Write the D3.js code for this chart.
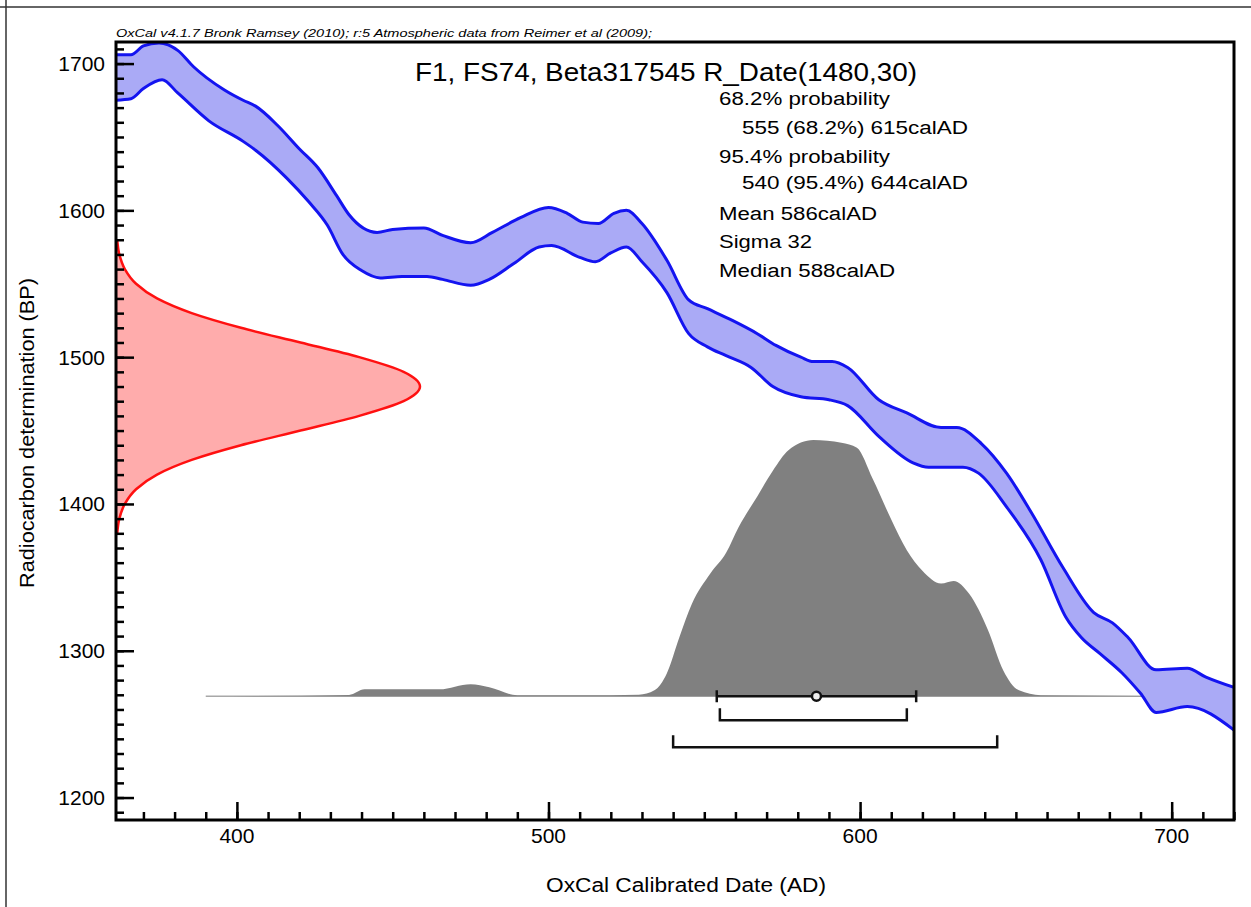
<!DOCTYPE html>
<html>
<head>
<meta charset="utf-8">
<script src="https://cdn.jsdelivr.net/npm/d3@7"></script>
<style>
  html, body { margin: 0; padding: 0; background: #fff; }
  svg { display: block; }
  text { font-family: "Liberation Sans", Arial, sans-serif; fill: #000; }
</style>
</head>
<body>
<svg id="chart" width="1251" height="907"></svg>
<script>
// ---------------- DATA ----------------
// Calibration curve (IntCal09) upper and lower 1-sigma envelope
const calUpperYear = [361,366,370,375,381,386,396,402,406,413,420,426,432,436,445,450,460,466,475,482,491,500,506,511,516,521,525,530,538,545,551,559,567,573,581,585,591,596,606,615,626,631,639,647,655,665,675,681,686,695,705,711,720];
const calUpperBP   = [1706,1706,1712,1714,1709,1698,1682,1675,1671,1658,1642,1629,1610,1597,1585,1587,1588,1583,1578,1585,1595,1602,1598,1592,1591,1598,1600,1591,1566,1539,1533,1525,1516,1508,1500,1497,1497,1493,1471,1462,1452,1452,1441,1421,1394,1357,1326,1319,1309,1287,1288,1282,1275];
const calLowerYear = [361,366,370,376,381,391,402,406,416,423,429,434,440,446,453,461,466,475,481,489,497,501,510,515,520,525,530,538,545,551,557,565,572,581,590,596,606,617,622,633,638,647,658,666,671,677,684,690,695,705,720];
const calLowerBP   = [1675,1676,1683,1689,1680,1661,1647,1641,1622,1606,1590,1570,1559,1554,1555,1555,1553,1549,1553,1564,1575,1576,1568,1565,1571,1575,1565,1544,1516,1507,1501,1493,1480,1473,1471,1467,1446,1428,1425,1425,1421,1398,1362,1323,1309,1298,1285,1271,1258,1262,1246];

// Radiocarbon determination R_Date(1480,30) (relative probability)
const rdateBP   = [1380,1390,1400,1410,1420,1430,1440,1450,1460,1470,1480,1490,1500,1510,1520,1530,1540,1550,1560,1570,1580];
const rdateProb = [0.004,0.011,0.029,0.066,0.135,0.249,0.411,0.607,0.800,0.946,1.000,0.946,0.800,0.607,0.411,0.249,0.135,0.066,0.029,0.011,0.004];

// Calibrated date distribution (relative probability)
const postYear = [390,436,441,465,475,481,490,510,529,534,538,542,546,552,557,561,567,572,577,585,594,599,604,610,615,620,626,630,635,641,646,651,658,720];
const postProb = [0,0.005,0.027,0.027,0.047,0.035,0.004,0.004,0.006,0.023,0.09,0.23,0.36,0.48,0.56,0.66,0.78,0.88,0.96,1.0,0.99,0.97,0.85,0.69,0.57,0.49,0.44,0.45,0.40,0.26,0.10,0.023,0.004,0];

// Summary statistics and ranges
const meanAD = 586, sigmaAD = 32;
const range68 = [555, 615];
const range95 = [540, 644];

// Texts
const headerText = "OxCal v4.1.7 Bronk Ramsey (2010); r:5 Atmospheric data from Reimer et al (2009);";
const titleText = "F1, FS74, Beta317545 R_Date(1480,30)";
const infoLines = ["68.2% probability", "   555 (68.2%) 615calAD", "95.4% probability", "   540 (95.4%) 644calAD", "Mean 586calAD", "Sigma 32", "Median 588calAD"];
const xTickValues = [400, 500, 600, 700];
const yTickValues = [1200, 1300, 1400, 1500, 1600, 1700];
const xTitle = "OxCal Calibrated Date (AD)";
const yTitle = "Radiocarbon determination (BP)";

// ---------------- LAYOUT ----------------
const svg = d3.select("#chart");
const L = 116, R = 1234, T = 42, B = 820;

const x = d3.scaleLinear().domain([361.2, 720]).range([L, R]);
const y = d3.scaleLinear().domain([1184.7, 1714.7]).range([B, T]);

// scales for the probability distributions
const rdateX = d3.scaleLinear().domain([0, 1]).range([L, L + 304]);
const postY = d3.scaleLinear().domain([0, 1]).range([y(1269), y(1443.5)]);

// outer image border (top & left)
svg.append("line").attr("x1", 0).attr("x2", 1251).attr("y1", 7).attr("y2", 7)
  .attr("stroke", "#333").attr("stroke-width", 1.5);
svg.append("line").attr("x1", 6).attr("x2", 6).attr("y1", 0).attr("y2", 907)
  .attr("stroke", "#333").attr("stroke-width", 1.5);

svg.append("defs").append("clipPath").attr("id", "plotclip")
  .append("rect").attr("x", L).attr("y", T).attr("width", R - L).attr("height", B - T);

const plot = svg.append("g").attr("clip-path", "url(#plotclip)");

// ---- posterior (grey) ----
const post = postYear.map((d, i) => ({ yr: d, p: postProb[i] }));
plot.append("line")
  .attr("x1", x(postYear[0])).attr("x2", x(postYear[postYear.length - 1]))
  .attr("y1", postY(0)).attr("y2", postY(0))
  .attr("stroke", "#a8a8a8").attr("stroke-width", 1.5);
plot.append("path")
  .datum(post)
  .attr("d", d3.area().x(d => x(d.yr)).y0(postY(0)).y1(d => postY(d.p)).curve(d3.curveMonotoneX))
  .attr("fill", "#808080");

// ---- radiocarbon date (red) ----
const rd = rdateBP.map((d, i) => ({ bp: d, p: rdateProb[i] }));
plot.append("path")
  .datum(rd)
  .attr("d", d3.area().y(d => y(d.bp)).x0(L).x1(d => rdateX(d.p)).curve(d3.curveMonotoneY))
  .attr("fill", "#ffacac");
plot.append("path")
  .datum(rd)
  .attr("d", d3.line().y(d => y(d.bp)).x(d => rdateX(d.p)).curve(d3.curveMonotoneY))
  .attr("fill", "none").attr("stroke", "#ff1010").attr("stroke-width", 2.5);

// ---- calibration curve (blue band) ----
const up = calUpperYear.map((d, i) => [x(d), y(calUpperBP[i])]);
const lo = calLowerYear.map((d, i) => [x(d), y(calLowerBP[i])]);
const lineGen = d3.line().curve(d3.curveMonotoneX);
const upPath = lineGen(up);
const loRevPath = d3.line().curve(d3.curveMonotoneX)(lo.slice().reverse()).replace(/^M/, "L");
plot.append("path")
  .attr("d", upPath + loRevPath + "Z")
  .attr("fill", "#aaaaf6").attr("stroke", "none");
plot.append("path").attr("d", upPath)
  .attr("fill", "none").attr("stroke", "#1414f0").attr("stroke-width", 3);
plot.append("path").attr("d", lineGen(lo))
  .attr("fill", "none").attr("stroke", "#1414f0").attr("stroke-width", 3);

// ---- error bars / ranges ----
const bars = svg.append("g").attr("stroke", "#111").attr("stroke-width", 2.5).attr("fill", "none");
const by0 = postY(0);
// mean +/- sigma
bars.append("line").attr("x1", x(meanAD - sigmaAD)).attr("x2", x(meanAD + sigmaAD)).attr("y1", by0).attr("y2", by0);
[meanAD - sigmaAD, meanAD + sigmaAD].forEach(v => {
  bars.append("line").attr("x1", x(v)).attr("x2", x(v)).attr("y1", by0 - 6).attr("y2", by0 + 6);
});
bars.append("circle").attr("cx", x(meanAD)).attr("cy", by0).attr("r", 4.5).attr("fill", "#eee");
// 68.2% bracket
const b68 = by0 + 24;
bars.append("path").attr("d", `M${x(range68[0])},${b68 - 12}V${b68}H${x(range68[1])}V${b68 - 12}`);
// 95.4% bracket
const b95 = by0 + 51;
bars.append("path").attr("d", `M${x(range95[0])},${b95 - 12}V${b95}H${x(range95[1])}V${b95 - 12}`);

// ---- frame and ticks ----
svg.append("rect").attr("x", L).attr("y", T).attr("width", R - L).attr("height", B - T)
  .attr("fill", "none").attr("stroke", "#000").attr("stroke-width", 3);

const xAxis = d3.axisBottom(x).tickValues(xTickValues).tickSize(-18).tickFormat("");
const xMinor = d3.axisBottom(x).tickValues(d3.range(370, 721, 10)).tickSize(-8).tickFormat("");
const yAxis = d3.axisLeft(y).tickValues(yTickValues).tickSize(-18).tickFormat("");
const yMinor = d3.axisLeft(y).tickValues(d3.range(1190, 1711, 10)).tickSize(-8).tickFormat("");
[[xMinor, `translate(0,${B})`], [xAxis, `translate(0,${B})`], [yMinor, `translate(${L},0)`], [yAxis, `translate(${L},0)`]].forEach(([ax, tr]) => {
  const g = svg.append("g").attr("transform", tr).call(ax);
  g.select(".domain").remove();
  g.selectAll("line").attr("stroke", "#000").attr("stroke-width", 2.5);
});

// tick labels
svg.append("g").selectAll("text").data(xTickValues).join("text")
  .attr("x", d => x(d)).attr("y", 843).attr("text-anchor", "middle")
  .attr("font-size", 21).text(d => d);
svg.append("g").selectAll("text").data(yTickValues).join("text")
  .attr("x", 105).attr("y", d => y(d) + 7.5).attr("text-anchor", "end")
  .attr("font-size", 21).text(d => d);

// axis titles
svg.append("text").attr("x", 546).attr("y", 892).attr("font-size", 20)
  .attr("textLength", 280).attr("lengthAdjust", "spacingAndGlyphs").text(xTitle);
svg.append("text").attr("transform", "translate(34,588) rotate(-90)").attr("font-size", 20)
  .attr("textLength", 310).attr("lengthAdjust", "spacingAndGlyphs").text(yTitle);

// header
svg.append("text").attr("x", 116).attr("y", 37).attr("font-size", 11).attr("font-style", "italic")
  .attr("fill", "#333").attr("textLength", 536).attr("lengthAdjust", "spacingAndGlyphs").text(headerText);

// title
svg.append("text").attr("x", 415).attr("y", 81).attr("font-size", 25)
  .attr("textLength", 502).attr("lengthAdjust", "spacingAndGlyphs").text(titleText);

// info block
const infoX = [719, 742, 719, 742, 719, 719, 719];
const infoY = [105, 134, 163, 189, 220, 248, 277];
const infoW = [171, 226, 171, 226, 158, 93, 176];
svg.append("g").selectAll("text").data(infoLines).join("text")
  .attr("x", (d, i) => infoX[i]).attr("y", (d, i) => infoY[i])
  .attr("font-size", 18)
  .attr("textLength", (d, i) => infoW[i]).attr("lengthAdjust", "spacingAndGlyphs")
  .text(d => d.trim());
</script>
</body>
</html>
